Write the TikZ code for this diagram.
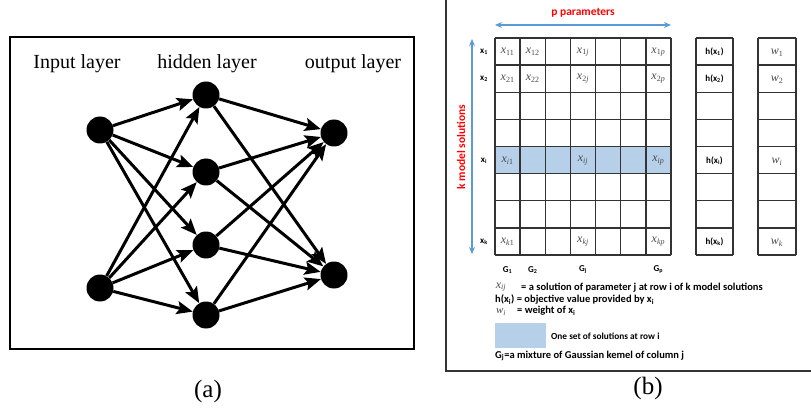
\documentclass[tikz,border=0pt]{standalone}
\usepackage{fontspec}
\setmainfont{Liberation Serif}
\newfontfamily\calib{Carlito}
\usetikzlibrary{arrows.meta}
\definecolor{hlblue}{HTML}{B7D0EA}
\definecolor{arrblue}{HTML}{5B9BD5}
\definecolor{gridgray}{HTML}{333333}
\definecolor{mathgray}{HTML}{4A4A4A}
\newcommand\mx[2]{\textit{#1}\textsubscript{#2}}
\tikzset{
  neuron/.style={circle,fill=black,inner sep=0pt,minimum size=27pt},
  layerlbl/.style={font=\fontsize{20}{22}\selectfont,inner sep=0pt},
  conn/.style={line width=3pt,-{Stealth[length=16pt,width=13pt,inset=3pt]}},
  captxt/.style={font=\fontsize{25}{27}\selectfont,inner sep=0pt},
  cell/.style={font=\fontsize{12}{13}\selectfont,text=mathgray,inner sep=0pt},
  bsans/.style={font=\calib\bfseries\fontsize{9}{10}\selectfont,inner sep=0pt},
  legtxt/.style={font=\calib\bfseries\fontsize{10.5}{11}\selectfont,inner sep=0pt},
  redlbl/.style={font=\calib\bfseries\fontsize{11.5}{12}\selectfont,text=red,inner sep=0pt},
  bluearrow/.style={draw=arrblue,line width=1.3pt,{Stealth[length=7pt,width=6pt]}-{Stealth[length=7pt,width=6pt]}},
}
\begin{document}
\begin{tikzpicture}[x=1pt,y=-1pt]
\useasboundingbox (0,0) rectangle (811,414);
% ---------- panel (a) ----------
\draw[line width=1.6pt] (10,37) rectangle (414,349);
\node[layerlbl] (tin) at (77,64) {Input layer};
\node[layerlbl] (thid) at (207,64) {hidden layer};
\node[layerlbl] (tout) at (353,64) {output layer};
\node[neuron] (i1) at (100,130) {};
\node[neuron] (i2) at (100,288) {};
\node[neuron] (h1) at (206,95) {};
\node[neuron] (h2) at (206,172) {};
\node[neuron] (h3) at (206,245) {};
\node[neuron] (h4) at (206,315) {};
\node[neuron] (o1) at (334,133) {};
\node[neuron] (o2) at (334,275) {};
\foreach \a in {i1,i2}{\foreach \b in {h1,h2,h3,h4}{\draw[conn] (\a) -- (\b);}}
\foreach \a in {h1,h2,h3,h4}{\foreach \b in {o1,o2}{\draw[conn] (\a) -- (\b);}}
\node[captxt] (capa) at (208,391) {(a)};
% ---------- panel (b) ----------
\draw[line width=1.8pt,draw=gridgray] (446,-2) -- (446,371) -- (813,371);
% highlight row
\fill[hlblue] (495,147) rectangle (671,174);
% grid
\foreach \k in {0,...,7}{\draw[gridgray,line width=1.3pt] ({495+\k*176/7},38) -- ({495+\k*176/7},255);}
\foreach \r in {0,...,8}{\draw[gridgray,line width=1.3pt] (495,{38+\r*217/8}) -- (671,{38+\r*217/8});}
\foreach \r in {0,...,8}{\draw[gridgray,line width=1.3pt] (696,{38+\r*217/8}) -- (733,{38+\r*217/8});
  \draw[gridgray,line width=1.3pt] (758,{38+\r*217/8}) -- (796,{38+\r*217/8});}
\draw[gridgray,line width=1.3pt] (696,38) -- (696,255) (733,38) -- (733,255) (758,38) -- (758,255) (796,38) -- (796,255);
% arrows
\coordinate (pl) at (495,25); \coordinate (pr) at (671,25);
\draw[bluearrow] (pl) -- (pr);
\node[redlbl] (ptxt) at (583,13) {p parameters};
\coordinate (kt) at (472,39); \coordinate (kb) at (472,254);
\draw[bluearrow] (kt) -- (kb);
\node[redlbl,rotate=90] (ktxt) at (461,147) {k model solutions};
% row labels
\node[bsans] (rx1) at (484,52) {x\textsubscript{1}};
\node[bsans] (rx2) at (484,79) {x\textsubscript{2}};
\node[bsans] (rxi) at (484,160.5) {x\textsubscript{i}};
\node[bsans] (rxk) at (484,241.5) {x\textsubscript{k}};
% cell contents
\node[cell] (c11) at (507.6,52) {\mx{x}{11}};
\node[cell] (c12) at (532.7,52) {\mx{x}{12}};
\node[cell] (c1j) at (583,52) {\mx{x}{1\textit{j}}};
\node[cell] (c1p) at (658.4,52) {\mx{x}{1\textit{p}}};
\node[cell] (c21) at (507.6,79) {\mx{x}{21}};
\node[cell] (c22) at (532.7,79) {\mx{x}{22}};
\node[cell] (c2j) at (583,79) {\mx{x}{2\textit{j}}};
\node[cell] (c2p) at (658.4,79) {\mx{x}{2\textit{p}}};
\node[cell] (ci1) at (507.6,160.5) {\mx{x}{\textit{i}1}};
\node[cell] (cij) at (583,160.5) {\mx{x}{\textit{ij}}};
\node[cell] (cip) at (658.4,160.5) {\mx{x}{\textit{ip}}};
\node[cell] (ck1) at (507.6,241.5) {\mx{x}{\textit{k}1}};
\node[cell] (ckj) at (583,241.5) {\mx{x}{\textit{kj}}};
\node[cell] (ckp) at (658.4,241.5) {\mx{x}{\textit{kp}}};
\node[bsans] (hx1) at (714.5,52) {h(x\textsubscript{1})};
\node[bsans] (hx2) at (714.5,79) {h(x\textsubscript{2})};
\node[bsans] (hxi) at (714.5,160.5) {h(x\textsubscript{i})};
\node[bsans] (hxk) at (714.5,241.5) {h(x\textsubscript{k})};
\node[cell] (w1) at (777,53) {\mx{w}{1}};
\node[cell] (w2) at (777,80) {\mx{w}{2}};
\node[cell] (wi) at (777,161.5) {\mx{w}{\textit{i}}};
\node[cell] (wk) at (777,242.5) {\mx{w}{\textit{k}}};
% G labels
\node[bsans] (g1) at (507.6,270) {G\textsubscript{1}};
\node[bsans] (g2) at (532.7,270) {G\textsubscript{2}};
\node[bsans] (gj) at (583,270) {G\textsubscript{j}};
\node[bsans] (gp) at (658.4,270) {G\textsubscript{p}};
% legend
\node[cell] (lx) at (501,287) {\mx{x}{\textit{ij}}};
\node[legtxt,anchor=west] (l1) at (521,288) {= a solution of parameter j at row i of k model solutions};
\node[legtxt,anchor=west] (l2) at (495,299.5) {h(x\textsubscript{i}) = objective value provided by x\textsubscript{i}};
\node[cell,font=\fontsize{11}{12}\selectfont] (lw) at (501,312) {\mx{w}{\textit{i}}};
\node[legtxt,anchor=west] (l3) at (517,311) {= weight of x\textsubscript{i}};
\fill[hlblue] (495,323) rectangle (546,348);
\node[bsans,font=\calib\bfseries\fontsize{9.3}{10}\selectfont,anchor=west] (l4) at (551,336) {One set of solutions at row i};
\node[legtxt,anchor=west] (l5) at (495,356) {G\textsubscript{j}=a mixture of Gaussian kemel of column j};
\node[captxt] (capb) at (648,388) {(b)};
\end{tikzpicture}
\end{document}
